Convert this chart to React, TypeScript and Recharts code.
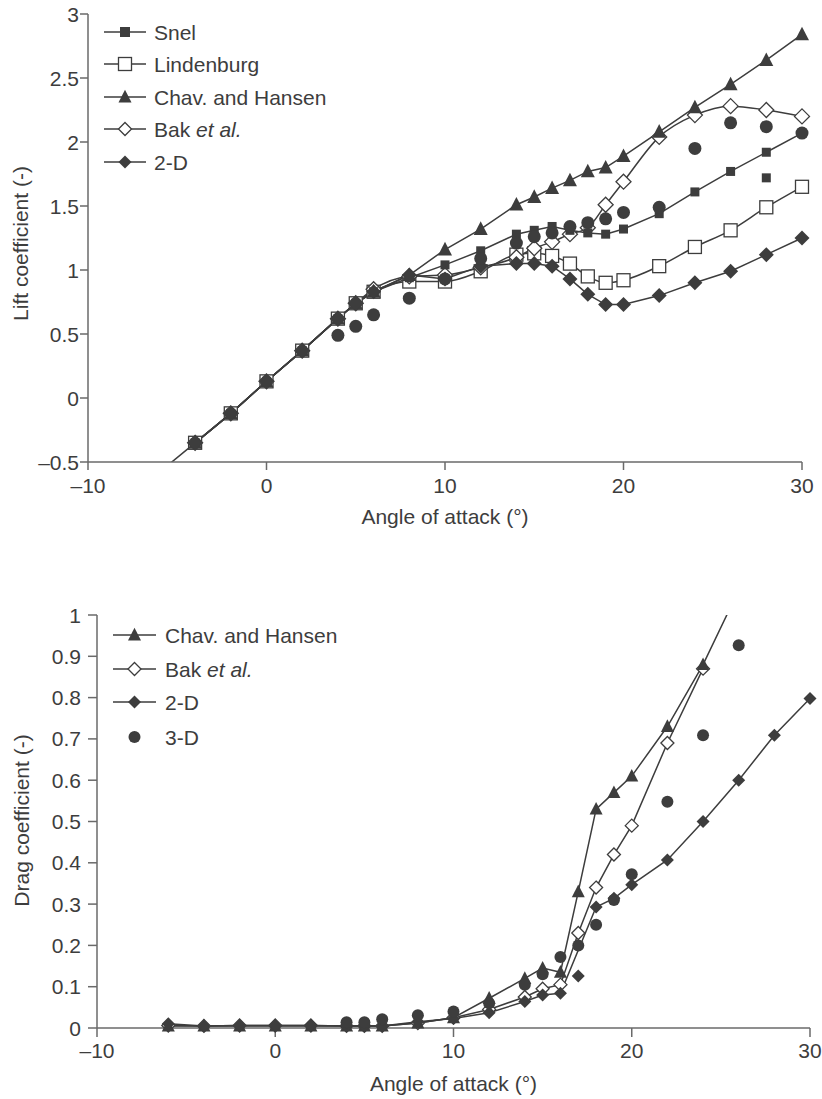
import React from "react";
import { ComposedChart, Line, XAxis, YAxis, Label } from "recharts";

// [angle of attack (deg), coefficient]
type Pt = [number, number];

const angleTicks = [-10, 0, 10, 20, 30];
const liftTicks = [-0.5, 0, 0.5, 1, 1.5, 2, 2.5, 3];
const dragTicks = [0, 0.1, 0.2, 0.3, 0.4, 0.5, 0.6, 0.7, 0.8, 0.9, 1];

const liftSnel: Pt[] = [[-4, -0.35], [-2, -0.12], [0, 0.13], [2, 0.37], [4, 0.62], [5, 0.74], [6, 0.83], [8, 0.94], [10, 1.04], [12, 1.15], [14, 1.28], [15, 1.31], [16, 1.34], [17, 1.31], [18, 1.29], [19, 1.28], [20, 1.32], [22, 1.44], [24, 1.61], [26, 1.77], [28, 1.92], [30, 2.07]];
const liftSnelExtra: Pt[] = [[28, 1.72]];
const liftLindenburg: Pt[] = [[-4, -0.35], [-2, -0.12], [0, 0.13], [2, 0.37], [4, 0.62], [5, 0.74], [6, 0.83], [8, 0.91], [10, 0.91], [12, 0.99], [14, 1.12], [15, 1.13], [16, 1.11], [17, 1.05], [18, 0.95], [19, 0.9], [20, 0.92], [22, 1.03], [24, 1.18], [26, 1.31], [28, 1.49], [30, 1.65]];
const liftChav: Pt[] = [[-4, -0.35], [-2, -0.12], [0, 0.13], [2, 0.37], [4, 0.62], [5, 0.74], [6, 0.83], [8, 0.96], [10, 1.16], [12, 1.32], [14, 1.51], [15, 1.57], [16, 1.64], [17, 1.7], [18, 1.77], [19, 1.8], [20, 1.89], [22, 2.08], [24, 2.27], [26, 2.45], [28, 2.64], [30, 2.84]];
const liftBak: Pt[] = [[-4, -0.35], [-2, -0.12], [0, 0.13], [2, 0.37], [4, 0.62], [5, 0.74], [6, 0.85], [8, 0.95], [10, 0.96], [12, 1.02], [14, 1.1], [15, 1.17], [16, 1.22], [17, 1.28], [18, 1.33], [19, 1.51], [20, 1.69], [22, 2.04], [24, 2.21], [26, 2.28], [28, 2.25], [30, 2.2]];
const lift2D: Pt[] = [[-6, -0.58], [-4, -0.35], [-2, -0.12], [0, 0.13], [2, 0.37], [4, 0.62], [5, 0.74], [6, 0.83], [8, 0.96], [10, 0.93], [12, 1.03], [14, 1.05], [15, 1.05], [16, 1.03], [17, 0.93], [18, 0.81], [19, 0.73], [20, 0.73], [22, 0.8], [24, 0.9], [26, 0.99], [28, 1.12], [30, 1.25]];
const lift3D: Pt[] = [[4, 0.49], [5, 0.56], [6, 0.65], [8, 0.78], [10, 0.93], [12, 1.09], [14, 1.21], [15, 1.26], [16, 1.29], [17, 1.34], [18, 1.37], [19, 1.4], [20, 1.45], [22, 1.49], [24, 1.95], [26, 2.15], [28, 2.12], [30, 2.07]];

const dragChav: Pt[] = [[-6, 0.005], [-4, 0.005], [-2, 0.005], [0, 0.005], [2, 0.005], [4, 0.005], [5, 0.005], [6, 0.005], [8, 0.012], [10, 0.025], [12, 0.072], [14, 0.12], [15, 0.145], [16, 0.135], [17, 0.33], [18, 0.53], [19, 0.57], [20, 0.61], [22, 0.73], [24, 0.88], [26, 1.06]];
const dragBak: Pt[] = [[-6, 0.006], [-4, 0.005], [-2, 0.006], [0, 0.006], [2, 0.006], [4, 0.005], [5, 0.005], [6, 0.005], [8, 0.012], [10, 0.025], [12, 0.045], [14, 0.075], [15, 0.095], [16, 0.105], [17, 0.23], [18, 0.34], [19, 0.42], [20, 0.49], [22, 0.69], [24, 0.87]];
const drag2D: Pt[] = [[-6, 0.01], [-4, 0.005], [-2, 0.006], [0, 0.006], [2, 0.006], [4, 0.005], [5, 0.005], [6, 0.005], [8, 0.015], [10, 0.023], [12, 0.037], [14, 0.064], [15, 0.08], [16, 0.084], [18, 0.293], [19, 0.314], [20, 0.347], [22, 0.407], [24, 0.5], [26, 0.6], [28, 0.709], [30, 0.798]];
const drag2DExtra: Pt[] = [[17, 0.126]];
const drag3D: Pt[] = [[4, 0.014], [5, 0.014], [6, 0.021], [8, 0.031], [10, 0.04], [12, 0.06], [14, 0.105], [15, 0.13], [16, 0.172], [17, 0.2], [18, 0.25], [19, 0.31], [20, 0.372], [22, 0.548], [24, 0.709], [26, 0.927]];

const FONT = '"Liberation Sans", Arial, Helvetica, sans-serif';
const FS = 21;
const INK = "#3d3d3d";
const AXIS = "#6a6a6a";

type Kind = "square" | "openSquare" | "triangle" | "openDiamond" | "diamond" | "circle";

const rows = (pts: Pt[]) => pts.map(([x, y]) => ({ x, y }));
const dash = (v: number) => String(v).replace("-", "\u2013");

function marker(kind: Kind, cx: number, cy: number, s: number, key?: string) {
  const h = s / 2;
  if (cx == null || cy == null || isNaN(cx) || isNaN(cy)) return <g key={key} />;
  switch (kind) {
    case "square":
      return <rect key={key} x={cx - h} y={cy - h} width={s} height={s} fill={INK} />;
    case "openSquare":
      return <rect key={key} x={cx - h} y={cy - h} width={s} height={s} fill="#fff" stroke={INK} strokeWidth={1.3} />;
    case "triangle":
      return <polygon key={key} points={`${cx},${cy - s * 0.55} ${cx + h},${cy + s * 0.42} ${cx - h},${cy + s * 0.42}`} fill={INK} />;
    case "diamond":
      return <polygon key={key} points={`${cx},${cy - h} ${cx + h},${cy} ${cx},${cy + h} ${cx - h},${cy}`} fill={INK} />;
    case "openDiamond":
      return <polygon key={key} points={`${cx},${cy - h} ${cx + h},${cy} ${cx},${cy + h} ${cx - h},${cy}`} fill="#fff" stroke={INK} strokeWidth={1.3} />;
    default:
      return <circle key={key} cx={cx} cy={cy} r={h} fill={INK} />;
  }
}

const dotFn = (name: string, kind: Kind, size: number) => (p: any) =>
  marker(kind, p.cx, p.cy, size, `${name}-${p.index}`);

function series(name: string, pts: Pt[], kind: Kind, size: number, opts: { line?: boolean; type?: any } = {}) {
  const showLine = opts.line !== false;
  return (
    <Line
      key={name}
      yAxisId="main"
      data={rows(pts)}
      dataKey="y"
      name={name}
      type={opts.type || "linear"}
      stroke={showLine ? INK : "none"}
      strokeWidth={1.5}
      dot={dotFn(name, kind, size)}
      activeDot={false}
      legendType="none"
      isAnimationActive={false}
    />
  );
}

// line drawn on a clipped twin axis, markers only where inside the frame
function clippedSeries(name: string, pts: Pt[], kind: Kind, size: number, lo: number, hi: number) {
  return [
    <Line key={name + "-line"} yAxisId="clip" data={rows(pts)} dataKey="y" type="linear" stroke={INK} strokeWidth={1.5} dot={false} activeDot={false} legendType="none" isAnimationActive={false} />,
    <Line key={name + "-dots"} yAxisId="main" data={rows(pts.filter(([, y]) => y >= lo && y <= hi))} dataKey="y" stroke="none" dot={dotFn(name, kind, size)} activeDot={false} legendType="none" isAnimationActive={false} />,
  ];
}

const yTick = (gap: number) => (p: any) => (
  <text x={p.x - gap} y={p.y} dy={7.5} textAnchor="end" fill={INK} fontSize={FS} fontFamily={FONT}>
    {dash(p.payload.value)}
  </text>
);
const xTick = (p: any) => (
  <text x={p.x} y={p.y} dy={14} textAnchor="middle" fill={INK} fontSize={FS} fontFamily={FONT}>
    {dash(p.payload.value)}
  </text>
);

function xTitle(dy: number) {
  return (props: any) => {
    const vb = props.viewBox || {};
    return (
      <text x={vb.x + vb.width / 2} y={vb.y + dy} textAnchor="middle" fill={INK} fontSize={FS} fontFamily={FONT}>
        Angle of attack (°)
      </text>
    );
  };
}

function yTitle(text: string, bx: number, dy: number) {
  return (props: any) => {
    const vb = props.viewBox || {};
    const cy = vb.y + vb.height / 2 + dy;
    return (
      <text x={bx} y={cy} transform={`rotate(-90, ${bx}, ${cy})`} textAnchor="middle" fill={INK} fontSize={FS} fontFamily={FONT}>
        {text}
      </text>
    );
  };
}

type LegendItem = { kind: Kind; label: React.ReactNode; line: boolean };

function LegendBlock({ items, x1, x2, tx, ys, size }: { items: LegendItem[]; x1: number; x2: number; tx: number; ys: number[]; size: number }) {
  const mx = (x1 + x2) / 2;
  return (
    <g>
      {items.map((it, i) => (
        <g key={i}>
          {it.line && <line x1={x1} x2={x2} y1={ys[i]} y2={ys[i]} stroke={INK} strokeWidth={1.5} />}
          {marker(it.kind, mx, ys[i], it.kind === "square" ? 10 : it.kind === "circle" ? 12 : size)}
          <text x={tx} y={ys[i] + 7.5} fill={INK} fontSize={FS} fontFamily={FONT}>
            {it.label}
          </text>
        </g>
      ))}
    </g>
  );
}

const bakLabel = (
  <>
    Bak <tspan fontStyle="italic">et al.</tspan>
  </>
);

const liftLegend: LegendItem[] = [
  { kind: "square", label: "Snel", line: true },
  { kind: "openSquare", label: "Lindenburg", line: true },
  { kind: "triangle", label: "Chav. and Hansen", line: true },
  { kind: "openDiamond", label: bakLabel, line: true },
  { kind: "diamond", label: "2-D", line: true },
];

const dragLegend: LegendItem[] = [
  { kind: "triangle", label: "Chav. and Hansen", line: true },
  { kind: "openDiamond", label: bakLabel, line: true },
  { kind: "diamond", label: "2-D", line: true },
  { kind: "circle", label: "3-D", line: false },
];

export default function App() {
  const lines = {
    axisLine: { stroke: AXIS, strokeWidth: 1.5 },
    tickLine: { stroke: AXIS, strokeWidth: 1.5 },
  };

  return (
    <div style={{ position: "fixed", left: 0, top: 0, width: 822, height: 1099, background: "#fff", overflow: "hidden" }}>
      <div style={{ position: "absolute", left: 0, top: 0 }}>
        <ComposedChart width={822} height={540} margin={{ top: 14, right: 20, bottom: 18, left: 20 }}>
          <XAxis type="number" dataKey="x" domain={[-10, 30]} ticks={angleTicks} height={60} tickSize={8} tickMargin={9} tick={xTick} {...lines}>
            <Label content={xTitle(61.5)} />
          </XAxis>
          <YAxis yAxisId="main" type="number" dataKey="y" domain={[-0.5, 3]} ticks={liftTicks} width={68} tickSize={8} tickMargin={0} tick={yTick(1)} {...lines}>
            <Label content={yTitle("Lift coefficient (-)", 28, 5.5)} />
          </YAxis>
          <YAxis yAxisId="clip" type="number" dataKey="y" domain={[-0.5, 3]} allowDataOverflow hide width={0} />
          {series("Lindenburg", liftLindenburg, "openSquare", 13, { type: "monotone" })}
          {series("Bak", liftBak, "openDiamond", 15, { type: "monotone" })}
          {series("Snel", liftSnel, "square", 9)}
          {series("SnelExtra", liftSnelExtra, "square", 9, { line: false })}
          {series("Chav", liftChav, "triangle", 14)}
          {clippedSeries("2D", lift2D, "diamond", 15, -0.5, 3)}
          {series("3D", lift3D, "circle", 13, { line: false })}
        </ComposedChart>
      </div>

      <div style={{ position: "absolute", left: 0, top: 560 }}>
        <ComposedChart width={822} height={539} margin={{ top: 55, right: 12, bottom: 11, left: 20 }}>
          <XAxis type="number" dataKey="x" domain={[-10, 30]} ticks={angleTicks} height={60} tickSize={9} tickMargin={7} tick={xTick} {...lines}>
            <Label content={xTitle(62.5)} />
          </XAxis>
          <YAxis yAxisId="main" type="number" dataKey="y" domain={[0, 1]} ticks={dragTicks} width={77} tickSize={9} tickMargin={0} tick={yTick(7)} {...lines}>
            <Label content={yTitle("Drag coefficient (-)", 28.5, -1)} />
          </YAxis>
          <YAxis yAxisId="clip" type="number" dataKey="y" domain={[0, 1]} allowDataOverflow hide width={0} />
          {series("Bak", dragBak, "openDiamond", 13)}
          {clippedSeries("Chav", dragChav, "triangle", 13, 0, 1)}
          {series("2D", drag2D, "diamond", 13)}
          {series("2DExtra", drag2DExtra, "diamond", 13, { line: false })}
          {series("3D", drag3D, "circle", 12, { line: false })}
        </ComposedChart>
      </div>

      <svg width={822} height={1099} style={{ position: "absolute", left: 0, top: 0, pointerEvents: "none" }}>
        <LegendBlock items={liftLegend} x1={104} x2={146} tx={154} ys={[32, 64, 97, 129, 162]} size={13} />
        <LegendBlock items={dragLegend} x1={113} x2={156} tx={165} ys={[635, 669, 702, 737]} size={13} />
      </svg>
    </div>
  );
}
